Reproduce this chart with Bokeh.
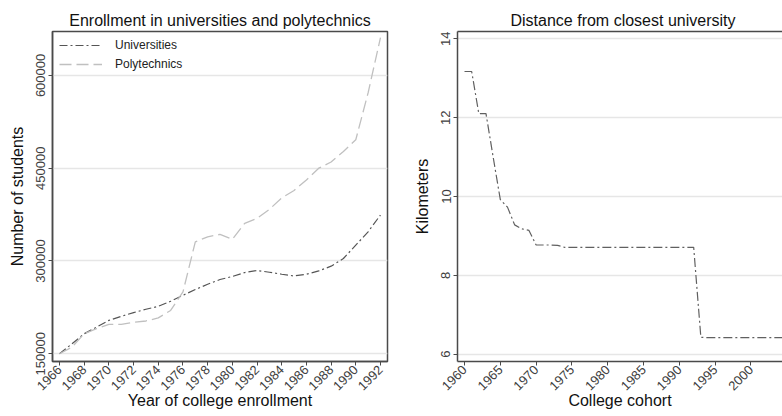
from bokeh.plotting import figure
from bokeh.layouts import row
from bokeh.models import FixedTicker, LinearAxis, BasicTickFormatter, Legend, LegendItem
from bokeh.embed import file_html
from bokeh.resources import INLINE
import math

# ---------------- data ----------------
enroll_years = [1966, 1967, 1968, 1969, 1970, 1971, 1972, 1973, 1974, 1975, 1976, 1977, 1978,
                1979, 1980, 1981, 1982, 1983, 1984, 1985, 1986, 1987, 1988, 1989, 1990, 1991, 1992]
universities = [150000, 166000, 182400, 193000, 204000, 210500, 216500, 222000, 226700, 234800,
                244500, 253800, 262400, 270000, 275000, 281300, 284600, 281800, 278600, 275800,
                278600, 284000, 291600, 304000, 325600, 347200, 374300]
polytechnics = [150000, 160700, 182400, 190500, 197500, 197500, 201000, 203000, 208000, 220000,
                250000, 331000, 339000, 343000, 334900, 360800, 368900, 383500, 402000, 414000,
                431000, 450000, 460000, 477000, 496000, 572000, 661000]
enroll_ticks = [1966, 1968, 1970, 1972, 1974, 1976, 1978, 1980, 1982, 1984, 1986, 1988, 1990, 1992]
students_ticks = [150000, 300000, 450000, 600000]

cohorts = [1960, 1961, 1962, 1963, 1964, 1965, 1966, 1967, 1968, 1969, 1970, 1971, 1972, 1973,
           1974, 1975, 1976, 1977, 1978, 1979, 1980, 1981, 1982, 1983, 1984, 1985, 1986, 1987,
           1988, 1989, 1990, 1991, 1992, 1993, 1994, 1995, 1996, 1997, 1998, 1999, 2000, 2001,
           2002, 2003, 2004, 2005]
distance_km = [13.17, 13.17, 12.1, 12.1, 11.0, 9.92, 9.73, 9.28, 9.18, 9.14, 8.77, 8.77, 8.77, 8.76,
               8.71, 8.71, 8.71, 8.71, 8.71, 8.71, 8.71, 8.71, 8.71, 8.71, 8.71, 8.71, 8.71, 8.71,
               8.71, 8.71, 8.71, 8.71, 8.71, 6.43, 6.42, 6.42, 6.42, 6.42, 6.42, 6.42, 6.42, 6.42,
               6.42, 6.42, 6.42, 6.42]
cohort_ticks = [1960, 1965, 1970, 1975, 1980, 1985, 1990, 1995, 2000, 2005, 2010]
km_ticks = [6, 8, 10, 12, 14]

FONT = "Liberation Sans"
FRAME = "#4a4a4a"
TICKTXT = "#404040"
GRID = "#e6e6e6"


def style(p, xlabel, ylabel):
    p.title.text_font = FONT
    p.title.text_font_size = "16px"
    p.title.text_font_style = "normal"
    p.title.text_color = "#111111"
    p.title.standoff = 6
    p.xgrid.visible = False
    p.ygrid.grid_line_color = GRID
    p.ygrid.grid_line_width = 1.5
    p.background_fill_color = "white"
    p.border_fill_color = "white"
    for ax in (p.xaxis[0], p.yaxis[0]):
        ax.axis_line_color = FRAME
        ax.axis_line_width = 1.5
        ax.major_tick_line_color = FRAME
        ax.major_tick_line_width = 1
        ax.major_tick_in = 0
        ax.major_tick_out = 4
        ax.minor_tick_line_color = None
        ax.major_label_text_font = FONT
        ax.major_label_text_color = TICKTXT
        ax.axis_label_text_font = FONT
        ax.axis_label_text_font_size = "16px"
        ax.axis_label_text_font_style = "normal"
        ax.axis_label_text_color = "#111111"
    p.xaxis[0].axis_label = xlabel
    p.yaxis[0].axis_label = ylabel
    p.xaxis[0].major_label_text_font_size = "13px"
    p.yaxis[0].major_label_text_font_size = "13px"
    p.xaxis[0].major_label_orientation = math.pi / 4
    p.xaxis[0].major_label_standoff = 2
    p.xaxis[0].axis_label_standoff = -5
    p.yaxis[0].major_label_orientation = "vertical"
    p.yaxis[0].major_label_standoff = 3
    p.yaxis[0].axis_label_standoff = 8


# ---------------- left panel ----------------
p1 = figure(width=400, height=416, output_backend="svg", toolbar_location=None,
            title="Enrollment in universities and polytechnics",
            x_range=(1965.43, 1992.57), y_range=(137500, 671000),
            min_border_left=52, min_border_right=13, min_border_top=31, min_border_bottom=55)
style(p1, "Year of college enrollment", "Number of students")
p1.title.align = "center"
p1.xaxis[0].ticker = FixedTicker(ticks=enroll_ticks)
p1.yaxis[0].ticker = FixedTicker(ticks=students_ticks)
p1.yaxis[0].formatter = BasicTickFormatter(use_scientific=False)
p1.outline_line_color = FRAME
p1.outline_line_width = 1.5
p1.outline_line_alpha = 1

r_u = p1.line(enroll_years, universities, line_color="#555555", line_width=1.2,
              line_dash="8 3 2 3")
r_p = p1.line(enroll_years, polytechnics, line_color="#c0c0c0", line_width=1.3,
              line_dash="12 5")
leg = Legend(items=[LegendItem(label="Universities", renderers=[r_u]),
                    LegendItem(label="Polytechnics", renderers=[r_p])],
             location="top_left")
leg.border_line_color = None
leg.background_fill_alpha = 0
leg.label_text_font = FONT
leg.label_text_font_size = "12px"
leg.label_text_color = "#222222"
leg.glyph_width = 43
leg.glyph_height = 14
leg.label_height = 14
leg.label_standoff = 13
leg.spacing = 5
leg.margin = 7
leg.padding = 3
p1.add_layout(leg)

# ---------------- right panel ----------------
p2 = figure(width=382, height=416, output_backend="svg", toolbar_location=None,
            title="Distance from closest university",
            x_range=(1959.02, 2004.4), y_range=(5.815, 14.185),
            min_border_left=57, min_border_right=0, min_border_top=31, min_border_bottom=55)
style(p2, "College cohort", "Kilometers")
p2.title.align = "left"
p2.title.offset = 53
p2.xaxis[0].ticker = FixedTicker(ticks=cohort_ticks)
p2.yaxis[0].ticker = FixedTicker(ticks=km_ticks)
p2.outline_line_color = None
top_axis = LinearAxis(ticker=FixedTicker(ticks=[]), axis_line_color=FRAME, axis_line_width=1.5,
                      major_tick_line_color=None, minor_tick_line_color=None,
                      major_label_text_font_size="0px", major_label_standoff=0)
p2.add_layout(top_axis, "above")

p2.line(cohorts, distance_km, line_color="#606060", line_width=1.2, line_dash="9 3 2 3")

layout = row(p1, p2)
open("out.html", "w").write(file_html(layout, INLINE))
